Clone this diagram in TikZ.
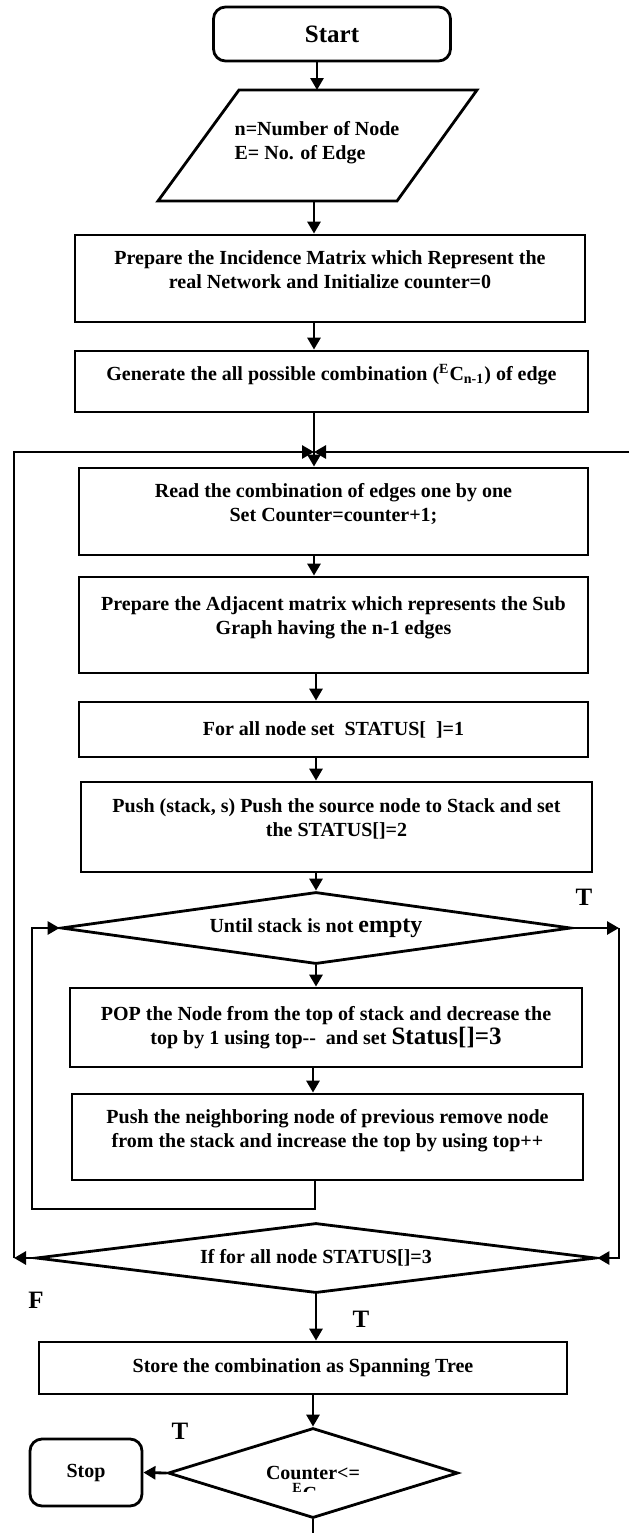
\documentclass[tikz,border=0pt]{standalone}
\usepackage{fontspec}
\setmainfont{Liberation Serif}
\usetikzlibrary{shapes.geometric, arrows.meta}

% extra blank line below the text, as in the source boxes
\newcommand{\padline}{\\[-3pt]\mbox{}}

\begin{document}
\begin{tikzpicture}[x=0.5pt, y=-0.5pt,
    every node/.style={font=\bfseries\fontsize{10}{12}\selectfont, align=center},
    box/.style={draw=black, line width=1.4pt, rectangle, inner sep=2pt},
    term/.style={draw=black, line width=1.4pt, rectangle, rounded corners=6pt},
    cond/.style={draw=black, line width=1.4pt, diamond, inner sep=0pt},
    arr/.style={-{Triangle[length=6pt, width=6.5pt]}, line width=1.4pt},
    lbl/.style={font=\bfseries\fontsize{12.5}{15}\selectfont}]
    \useasboundingbox (0,0) rectangle (629,1533);

    \node[term, minimum width=118.5pt, minimum height=27pt, font=\bfseries\fontsize{12.5}{15}\selectfont] (start) at (332,34) {Start};

    \node[align=left] (input) at (317,143) {n=Number of Node\\E= No. of Edge};
    \draw[line width=1.4pt] (239,90) -- (477,90) -- (397,201) -- (158,201) -- cycle;
    \coordinate (intop) at (317,90);
    \coordinate (inbot) at (314,201);

    \node[box, minimum width=255pt, minimum height=43.5pt] (incid) at (330,278.5) {Prepare the Incidence Matrix which Represent the\\real Network and Initialize counter=0\padline};
    \node[box, minimum width=256.5pt, minimum height=30.5pt] (gen) at (331.5,381.5) {Generate the all possible combination (\textsuperscript{E}C\textsubscript{n-1}) of edge\padline};
    \node[box, minimum width=254.5pt, minimum height=43.5pt] (readc) at (333.5,511.5) {Read the combination of edges one by one\\Set Counter=counter+1;\padline};
    \node[box, minimum width=254.5pt, minimum height=48pt] (adj) at (333.5,625) {Prepare the Adjacent matrix which represents the Sub\\Graph having the n-1 edges\padline};
    \node[box, minimum width=254.5pt, minimum height=27.5pt] (init) at (333.5,729.5) {For all node set~ STATUS[~~]=1};
    \node[box, minimum width=255.5pt, minimum height=45pt] (push) at (336.5,827) {Push (stack, s) Push the source node to Stack and set\\the STATUS[]=2\padline};

    \node[cond, shape aspect=7, minimum width=255pt, minimum height=36pt] (until) at (316,928) {Until stack is not {\fontsize{12}{14}\selectfont empty}};

    \node[box, minimum width=256pt, minimum height=39.5pt] (pop) at (326,1027.5) {POP the Node from the top of stack and decrease the\\top by 1 using top-{}-~ and set {\fontsize{12.5}{14}\selectfont Status[]=3}};
    \node[box, minimum width=255.5pt, minimum height=43pt] (nbr) at (327.5,1137) {Push the neighboring node of previous remove node\\from the stack and increase the top by using top++\padline};

    \node[cond, shape aspect=8, minimum width=280pt, minimum height=35pt] (iffor) at (316,1258) {If for all node STATUS[]=3};

    \node[box, minimum width=264pt, minimum height=26pt] (store) at (303,1368) {Store the combination as Spanning Tree};

    \node[cond, shape aspect=3.2, minimum width=145pt, minimum height=45pt] (cnt) at (313,1473) {Counter<=};
    \begin{scope}
        \clip (280,1478) rectangle (340,1491);
        \node[anchor=base west, inner sep=0pt] (cntb) at (292,1500) {\textsuperscript{E}C\textsubscript{n-1}};
    \end{scope}

    \node[term, minimum width=56pt, minimum height=33.5pt] (stop) at (86,1472.5) {Stop};

    % loop points
    \coordinate (jn) at (314,452);
    \coordinate (re) at (629,452);
    \coordinate (lb) at (14,1258);
    \coordinate (lp1) at (315,1209);
    \coordinate (lp2) at (32,1209);
    \coordinate (rt) at (619,928);
    \coordinate (cend) at (313,1533);

    \draw[arr] (start.south -| intop) -- (intop);
    \draw[arr] (inbot) -- (incid.north -| inbot);
    \draw[arr] (incid.south -| inbot) -- (gen.north -| inbot);
    \draw[arr] (gen.south -| jn) -- (readc.north -| jn);
    \draw[arr] (iffor.west) -- (lb);
    \draw[arr] (lb) |- (jn);
    \draw[arr] (re) -- (jn);
    \draw[arr] (readc.south -| jn) -- (adj.north -| jn);
    \draw[arr] (adj.south -| until) -- (init.north -| until);
    \draw[arr] (init.south -| until) -- (push.north -| until);
    \draw[arr] (push.south -| until) -- (until.north);
    \draw[arr] (until.south) -- (pop.north -| until);
    \draw[arr] (pop.south -| cnt) -- (nbr.north -| cnt);
    \draw[arr] (nbr.south -| lp1) -- (lp1) -- (lp2) |- (until.west);
    \draw[arr] (until.east) -- (rt);
    \draw[arr] (rt) |- (iffor.east);
    \draw[arr] (iffor.south) -- (store.north -| iffor);
    \draw[arr] (store.south -| cnt) -- (cnt.north);
    \draw[arr] (cnt.west) -- (stop.east);
    \draw[line width=1.4pt] (cnt.south) -- (cend);

    \node[lbl] (t1) at (584,897) {T};
    \node[lbl] (f1) at (36,1300) {F};
    \node[lbl] (t2) at (361,1319) {T};
    \node[lbl] (t3) at (180,1431) {T};
\end{tikzpicture}
\end{document}
